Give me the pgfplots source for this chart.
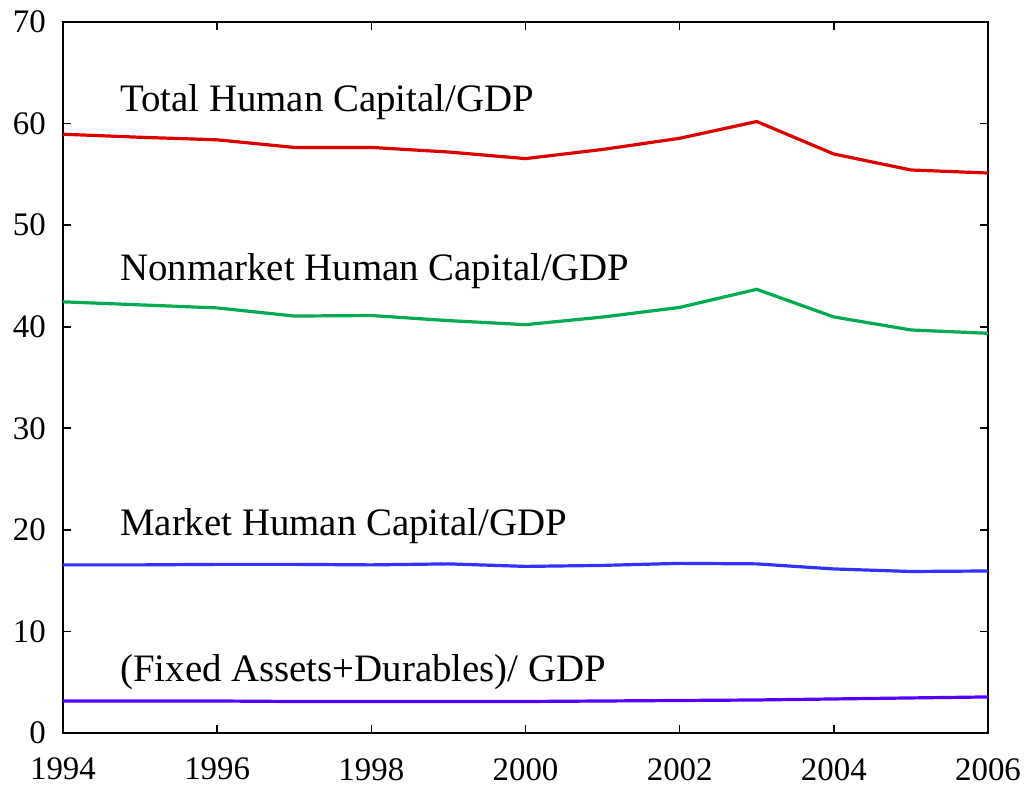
\documentclass[border=0pt]{standalone}
\usepackage{pgfplots}
\pgfplotsset{compat=1.18}
\usepackage{fontspec}
\setmainfont{Liberation Serif}
\definecolor{cred}{RGB}{220,0,0}
\definecolor{cgreen}{RGB}{0,170,80}
\definecolor{cblue}{RGB}{50,50,255}
\definecolor{cviolet}{RGB}{85,0,255}
\begin{document}
\begin{tikzpicture}
\begin{axis}[name=ax,
  scale only axis, width=925bp, height=711bp,
  xmin=1994, xmax=2006, ymin=0, ymax=70,
  xtick={1994,1996,...,2006}, ytick={0,10,...,70},
  major tick length=8bp,
  tick align=inside, 
  axis line style={line width=1.6bp},
  every tick/.style={line width=1.6bp, black},
  /pgf/number format/assume math mode=true,
  x tick label style={/pgf/number format/1000 sep={}},
  tick label style={font=\fontsize{33}{36}\selectfont, inner sep=0pt},
  xticklabel style={yshift=-25bp},
  yticklabel style={xshift=-17bp},
]
\addplot[cred, line width=3.2bp] coordinates {
(1994,58.95) (1995,58.65) (1996,58.4) (1997,57.65) (1998,57.65) (1999,57.2) (2000,56.55) (2001,57.45) (2002,58.55) (2003,60.2) (2004,57.0) (2005,55.43) (2006,55.13)};
\addplot[cgreen, line width=3.2bp] coordinates {
(1994,42.45) (1995,42.15) (1996,41.85) (1997,41.05) (1998,41.1) (1999,40.6) (2000,40.2) (2001,40.95) (2002,41.9) (2003,43.68) (2004,40.96) (2005,39.68) (2006,39.35)};
\addplot[cblue, line width=3.2bp] coordinates {
(1994,16.55) (1995,16.55) (1996,16.6) (1997,16.6) (1998,16.55) (1999,16.65) (2000,16.4) (2001,16.5) (2002,16.7) (2003,16.65) (2004,16.15) (2005,15.9) (2006,15.95)};
\addplot[cviolet, line width=3.2bp] coordinates {
(1994,3.15) (1995,3.15) (1996,3.15) (1997,3.1) (1998,3.1) (1999,3.1) (2000,3.1) (2001,3.15) (2002,3.2) (2003,3.25) (2004,3.35) (2005,3.45) (2006,3.55)};
\node[anchor=base west, inner sep=0pt, font=\fontsize{39}{42}\selectfont] at (axis cs:1994.74,61.15) {Total Human Capital/GDP};
\node[anchor=base west, inner sep=0pt, font=\fontsize{39}{42}\selectfont] at (axis cs:1994.74,44.55) {Nonmarket Human Capital/GDP};
\node[anchor=base west, inner sep=0pt, font=\fontsize{39}{42}\selectfont] at (axis cs:1994.74,19.45) {Market Human Capital/GDP};
\node[anchor=base west, inner sep=0pt, font=\fontsize{39}{42}\selectfont] at (axis cs:1994.74,5.05) {(Fixed Assets+Durables)/ GDP};
\end{axis}
\path[use as bounding box] (ax.south west) ++(-63bp,-55bp) rectangle ([shift={(41bp,22bp)}]ax.north east);
\end{tikzpicture}
\end{document}
